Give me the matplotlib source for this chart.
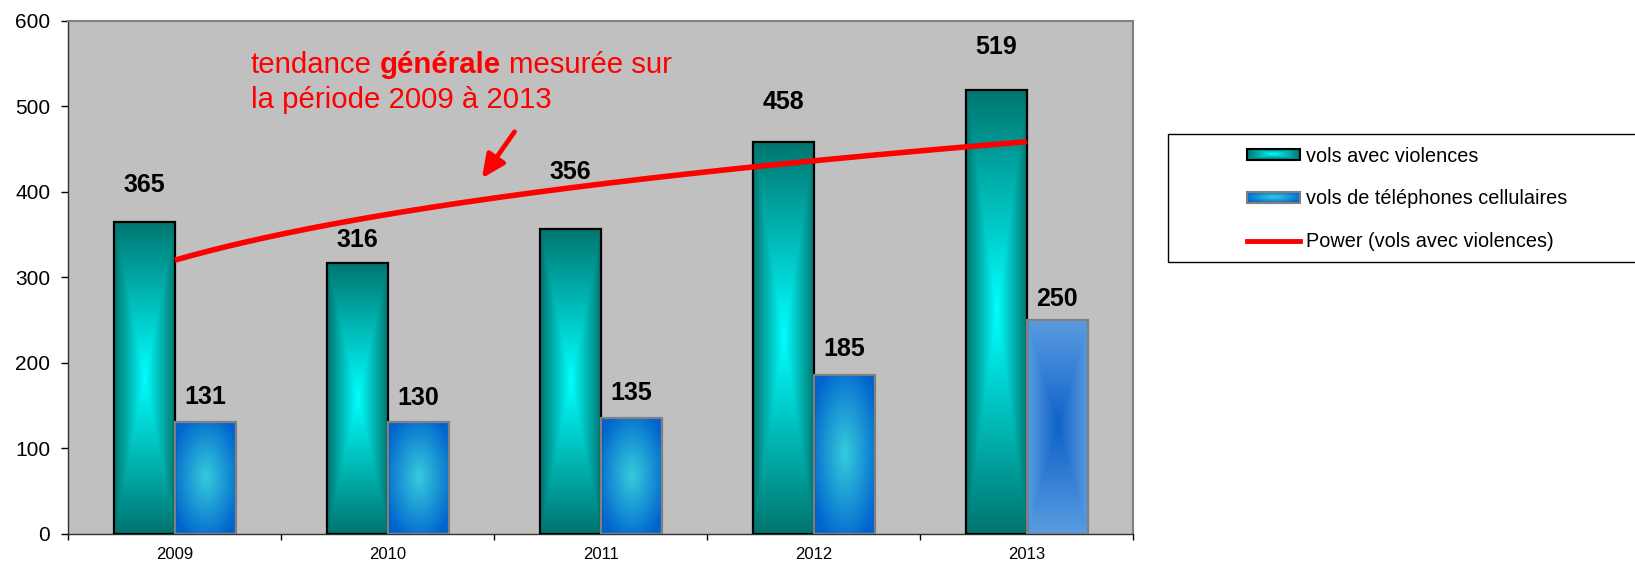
import numpy as np
import matplotlib
matplotlib.use("Agg")
import matplotlib.pyplot as plt
from matplotlib.patches import Rectangle
from matplotlib.lines import Line2D
from matplotlib.legend_handler import HandlerBase
from matplotlib.image import BboxImage
from matplotlib.transforms import Bbox, TransformedBbox
from matplotlib.offsetbox import TextArea, HPacker, VPacker, AnnotationBbox

plt.rcParams['font.family'] = ['Liberation Sans', 'DejaVu Sans']

# donnees
annees = ["2009", "2010", "2011", "2012", "2013"]
vols_violences = [365, 316, 356, 458, 519]
vols_telephones = [131, 130, 135, 185, 250]
noms_series = ["vols avec violences", "vols de téléphones cellulaires", "Power (vols avec violences)"]

# decalage des etiquettes au dessus des barres (points)
decal_1 = [26.5, 17, 41, 29, 31]
decal_2 = [18, 17.5, 18, 19, 15]


def couleur(h):
    h = h.lstrip('#')
    return np.array([int(h[i:i + 2], 16) / 255 for i in (0, 2, 4)])


def degrade(c_centre, c_bord, forme="rect", n=80, m=240):
    xx = np.linspace(-1, 1, n)
    yy = np.linspace(-1, 1, m)
    X, Y = np.meshgrid(xx, yy)
    if forme == "rect":
        t = np.maximum(np.abs(X), np.abs(Y))
    else:
        t = np.clip(np.sqrt(X ** 2 + Y ** 2) / 1.2, 0, 1)
    t = t[..., None]
    return couleur(c_centre) * (1 - t) + couleur(c_bord) * t


img_teal = degrade("#00FFFF", "#007570")
img_bleu = degrade("#36CCDC", "#0064CE", forme="rond")
img_bleu_2013 = degrade("#0F62CA", "#5A9CE0")

fig = plt.figure(figsize=(16.35, 5.65), dpi=100)
ax = fig.add_axes([68.3 / 1635, 1 - 533.5 / 565, 1065 / 1635, 512.8 / 565])
ax.set_facecolor("#C0C0C0")

pos = np.arange(len(annees))
w = 0.287
b1 = ax.bar(pos - w / 2, vols_violences, width=w, facecolor="none",
            edgecolor="black", linewidth=1.6, zorder=3)
b2 = ax.bar(pos + w / 2, vols_telephones, width=w, facecolor="none",
            edgecolor="#808080", linewidth=1.6, zorder=3)

# remplissage en degrade
for i, p in enumerate(b1):
    x0, y0 = p.get_x(), p.get_y()
    ax.imshow(img_teal, extent=[x0, x0 + p.get_width(), y0, y0 + p.get_height()],
              aspect="auto", origin="lower", interpolation="bilinear", zorder=2)
for i, p in enumerate(b2):
    x0, y0 = p.get_x(), p.get_y()
    img = img_bleu_2013 if i == len(b2) - 1 else img_bleu
    ax.imshow(img, extent=[x0, x0 + p.get_width(), y0, y0 + p.get_height()],
              aspect="auto", origin="lower", interpolation="bilinear", zorder=2)

# courbe de tendance (puissance)
xs = np.arange(1, len(vols_violences) + 1)
b, ln_a = np.polyfit(np.log(xs), np.log(vols_violences), 1)
xx = np.linspace(1, len(vols_violences), 200)
ax.plot(xx - 1, np.exp(ln_a) * xx ** b, color="red", lw=4, zorder=4,
        solid_capstyle="butt")

# etiquettes
for p, v, d in zip(b1, vols_violences, decal_1):
    ax.annotate(str(v), (p.get_x() + p.get_width() / 2, v), xytext=(0, d),
                textcoords="offset points", ha="center", va="center",
                fontsize=18, fontweight="bold", zorder=6)
for p, v, d in zip(b2, vols_telephones, decal_2):
    ax.annotate(str(v), (p.get_x() + p.get_width() / 2, v), xytext=(0, d),
                textcoords="offset points", ha="center", va="center",
                fontsize=18, fontweight="bold", zorder=6)

ax.set_xlim(-0.5, len(annees) - 0.5)
ax.set_ylim(0, 600)
ax.set_yticks(range(0, 601, 100))
ax.set_xticks(np.arange(-0.5, len(annees), 1))
ax.set_xticklabels([])
ax.set_xticks(pos, minor=True)
ax.set_xticklabels(annees, minor=True)
ax.tick_params(axis="y", direction="out", length=5, width=1, pad=8, labelsize=15)
ax.tick_params(axis="x", which="major", direction="out", length=4.5, width=1)
ax.tick_params(axis="x", which="minor", length=0, pad=9.5, labelsize=12)
for s in ["left", "bottom"]:
    ax.spines[s].set_color("#303030")
    ax.spines[s].set_linewidth(1)
for s in ["top", "right"]:
    ax.spines[s].set_color("#808080")
    ax.spines[s].set_linewidth(1.5)

# texte rouge + fleche
props = dict(color="red", fontsize=21.2)
ligne1 = HPacker(children=[TextArea("tendance", textprops=props),
                           TextArea("générale", textprops=dict(props, fontweight="bold")),
                           TextArea("mesurée sur", textprops=props)],
                 sep=5.9, pad=0, align="baseline")
ligne2 = TextArea("la période 2009 à 2013", textprops=props)
bloc = VPacker(children=[ligne1, ligne2], sep=4.5, pad=0, align="left")
ab = AnnotationBbox(bloc, (0.1713, 0.94), xycoords="axes fraction",
                    box_alignment=(0, 1), frameon=False, pad=0, zorder=6)
ax.add_artist(ab)
ax.annotate("", xy=(1.4416, 415.6), xytext=(1.595, 470.1),
            arrowprops=dict(arrowstyle="-|>,head_length=1.4,head_width=0.65",
                            color="red", lw=3.4, shrinkA=0, shrinkB=0,
                            mutation_scale=10), zorder=6)


# legende avec degrade
class HandlerDegrade(HandlerBase):
    def __init__(self, img, bord):
        super().__init__()
        self.img = img
        self.bord = bord

    def create_artists(self, legend, orig_handle, xdescent, ydescent,
                       width, height, fontsize, trans):
        bb = TransformedBbox(Bbox.from_bounds(-xdescent, -ydescent, width, height), trans)
        im = BboxImage(bb, interpolation="bilinear")
        im.set_data(self.img)
        r = Rectangle((-xdescent, -ydescent), width, height, facecolor="none",
                      edgecolor=self.bord, lw=1.5, transform=trans)
        return [im, r]


leg_img1 = degrade("#00FFFF", "#007570", n=60, m=10)
leg_img2 = degrade("#36CCDC", "#0064CE", forme="rond", n=60, m=10)
h1 = Rectangle((0, 0), 1, 1)
h2 = Rectangle((0, 0), 1, 1)
h3 = Line2D([], [], color="red", lw=3.5)

cadre = Rectangle((1168.3 / 1635, 1 - 262.3 / 565), 0.4, 128.3 / 565,
                  transform=fig.transFigure, facecolor="white", edgecolor="black",
                  lw=1, zorder=0)
fig.patches.append(cadre)
fig.legend([h1, h2, h3], noms_series, loc="center left",
           bbox_to_anchor=(1247 / 1635, 1 - 199 / 565), frameon=False,
           borderpad=0, borderaxespad=0, fontsize=14.3, handlelength=2.65,
           handleheight=0.5, handletextpad=0.3, labelspacing=1.2,
           handler_map={h1: HandlerDegrade(leg_img1, "black"),
                        h2: HandlerDegrade(leg_img2, "#808080")})

fig.savefig("out.png", dpi=100)
